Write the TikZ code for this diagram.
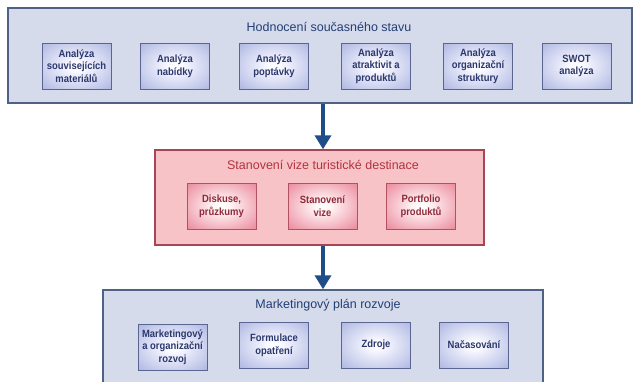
\documentclass[tikz,border=0pt]{standalone}
\usepackage{fontspec}
\setmainfont{Liberation Sans}
\newfontfamily\boxfont{Liberation Sans}[FakeStretch=0.9]
\usepackage{tikz}
\usetikzlibrary{arrows.meta, positioning}
\definecolor{bluepanel}{HTML}{D6DBEC}
\definecolor{blueline}{HTML}{4D6284}
\definecolor{boxline}{HTML}{5A6592}
\definecolor{bluetext}{HTML}{233E74}
\definecolor{boxtext}{HTML}{2B386C}
\definecolor{pinkpanel}{HTML}{F8C3C6}
\definecolor{pinkline}{HTML}{A54654}
\definecolor{pinkbox}{HTML}{B05262}
\definecolor{pinktext}{HTML}{B03442}
\definecolor{pinkboxtext}{HTML}{8E2B3A}
\definecolor{flowblue}{HTML}{1E4D87}
\pgfdeclareradialshading{blueglow}{\pgfpointorigin}{rgb(0bp)=(1,1,1); rgb(6bp)=(0.97,0.97,1); rgb(40bp)=(0.64,0.68,0.87); rgb(75bp)=(0.60,0.64,0.85)}
\pgfdeclareradialshading{pinkglow}{\pgfpointorigin}{rgb(0bp)=(1,1,1); rgb(6bp)=(1,0.96,0.96); rgb(40bp)=(0.91,0.47,0.56); rgb(75bp)=(0.88,0.42,0.52)}

\begin{document}
\begin{tikzpicture}[x=1pt, y=-1pt,
  stage/.style={rectangle, draw=blueline, fill=bluepanel, line width=1.4pt},
  heading/.style={font=\fontsize{12.5}{14}\selectfont, text=bluetext, inner sep=0pt},
  task/.style={rectangle, draw=boxline, line width=0.9pt, shading=blueglow, minimum width=69pt, minimum height=46pt, inner sep=1pt, align=center, text=boxtext, font=\boxfont\bfseries\fontsize{10.5}{12.7}\selectfont},
  ptask/.style={task, draw=pinkbox, shading=pinkglow, text=pinkboxtext},
  flow/.style={draw=flowblue, line width=3.6pt, -{Triangle[width=16pt,length=14pt]}}
]
\clip (0,0) rectangle (636,381);
\fill[white] (0,0) rectangle (636,381);

% hodnoceni
\node[stage, minimum width=624pt, minimum height=95pt] (eval) at (320,55.5) {};
\node[heading] (evaltitle) at (329,27) {Hodnocení současného stavu};
\node[task] (a1) at (76.5,66)  {Analýza\\souvisejících\\materiálů};
\node[task] (a2) at (175,66)   {Analýza\\nabídky};
\node[task] (a3) at (274,66)   {Analýza\\poptávky};
\node[task] (a4) at (376,66)   {Analýza\\atraktivit a\\produktů};
\node[task] (a5) at (478,66)   {Analýza\\organizační\\struktury};
\node[task] (a6) at (576.5,66) {SWOT\\analýza};

% vize
\node[stage, draw=pinkline, fill=pinkpanel, minimum width=329pt, minimum height=95pt] (vision) at (319.5,197.5) {};
\node[heading, text=pinktext] (visiontitle) at (323,165) {Stanovení vize turistické destinace};
\node[ptask] (v1) at (221.5,206) {Diskuse,\\průzkumy};
\node[ptask] (v2) at (322.5,206) {Stanovení\\vize};
\node[ptask] (v3) at (421,206)   {Portfolio\\produktů};

% plan
\node[stage, minimum width=440pt, minimum height=100pt] (plan) at (323,340) {};
\node[heading] (plantitle) at (328,305) {Marketingový plán rozvoje};
\node[task] (p1) at (172.5,347) {Marketingový\\a organizační\\rozvoj};
\node[task] (p2) at (274,345)   {Formulace\\opatření};
\node[task] (p3) at (376,345)   {Zdroje};
\node[task] (p4) at (474,345)   {Načasování};

\draw[flow] (eval.south -| plan.north) -- (vision.north -| plan.north);
\draw[flow] (vision.south -| plan.north) -- (plan.north);
\end{tikzpicture}
\end{document}
